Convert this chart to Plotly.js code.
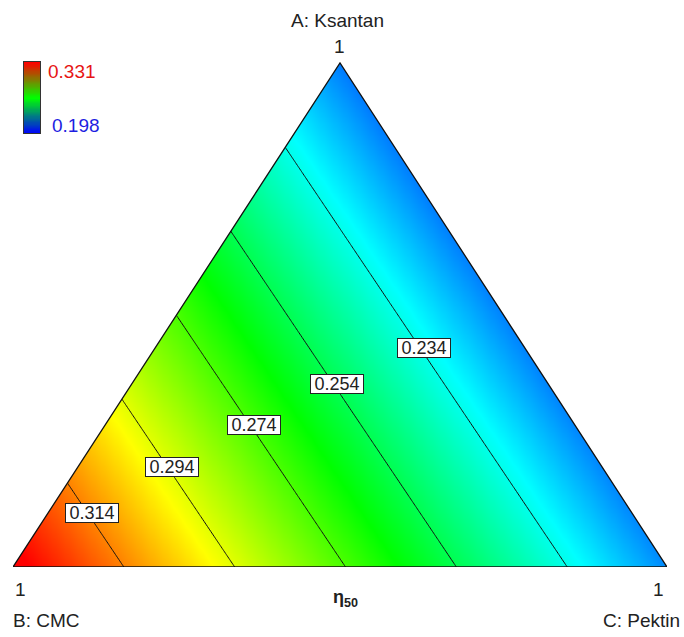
<!DOCTYPE html>
<html>
<head>
<meta charset="utf-8">
<script src="https://cdn.plot.ly/plotly-3.0.1.min.js"></script>
<style>html,body{margin:0;padding:0;background:#fff;}#chart{width:684px;height:637px;}</style>
</head>
<body>
<div id="chart"></div>
<script>
// ---- data ----
const componentNames = ['A: Ksantan', 'B: CMC', 'C: Pektin'];
const vertexLabels = ['1', '1', '1'];
const vertexResponse = [0.2139, 0.334, 0.216];   // fitted response at pure A, B, C (linear mixture model)
const contourLevels = [0.234, 0.254, 0.274, 0.294, 0.314];
const labelHeights = [0.435, 0.363, 0.282, 0.198, 0.107]; // A-fraction where each contour label sits
const colorRange = [0.198, 0.331];
const responseName = '<b>η<sub>50</sub></b>';

// ---- geometry helpers (B at origin, C at (1,0), A at (0.5,1)) ----
function response(x, y) {
  const A = y, C = x - y / 2, B = 1 - A - C;
  return vertexResponse[0] * A + vertexResponse[1] * B + vertexResponse[2] * C;
}
const step = 0.005;
const xs = [], ys = [];
for (let i = 0; i <= 200; i++) xs.push(+(i * step).toFixed(4));
for (let j = 0; j <= 208; j++) ys.push(+(j * step).toFixed(4));
const z = ys.map(y => xs.map(x => response(x, y)));

const mainScale = [[0, 'rgb(0,0,255)'], [0.25, 'rgb(0,255,255)'], [0.5, 'rgb(0,255,0)'], [0.75, 'rgb(255,255,0)'], [1, 'rgb(255,0,0)']];
const legendScale = [[0, 'rgb(0,0,255)'], [0.5, 'rgb(0,255,0)'], [1, 'rgb(255,0,0)']];

const W = 684, H = 637, ML = 13, MR = 17, MT = 50, MB = 70;
const PW = W - ML - MR, PH = H - MT - MB;   // 654 x 517
const yTop = PH / 504;
const px2x = p => (p - ML) / PW;
const py2y = p => (H - MB - p) / PH;

const traces = [];
traces.push({type: 'heatmap', x: xs, y: ys, z: z, colorscale: mainScale, zmin: colorRange[0], zmax: colorRange[1],
  zsmooth: 'best', showscale: false, hoverinfo: 'skip'});
traces.push({type: 'contour', x: xs, y: ys, z: z, showscale: false, hoverinfo: 'skip',
  contours: {coloring: 'none', start: contourLevels[0], end: contourLevels[contourLevels.length - 1], size: 0.02},
  line: {color: '#111', width: 1}});
// white masks outside the triangle
traces.push({type: 'scatter', mode: 'lines', x: [-0.1, 0, 0.5, 0.5, -0.1, -0.1], y: [0, 0, 1, 1.2, 1.2, 0],
  fill: 'toself', fillcolor: '#fff', line: {width: 0, color: '#fff'}, hoverinfo: 'skip', showlegend: false});
traces.push({type: 'scatter', mode: 'lines', x: [1.1, 1, 0.5, 0.5, 1.1, 1.1], y: [0, 0, 1, 1.2, 1.2, 0],
  fill: 'toself', fillcolor: '#fff', line: {width: 0, color: '#fff'}, hoverinfo: 'skip', showlegend: false});
// triangle outline
traces.push({type: 'scatter', mode: 'lines', x: [0, 0.5, 1, 0], y: [0, 1, 0, 0],
  line: {color: '#111', width: 1.3}, hoverinfo: 'skip', showlegend: false});
// legend colour bar
const legVals = [];
for (let k = 0; k <= 60; k++) legVals.push(colorRange[0] + (colorRange[1] - colorRange[0]) * k / 60);
traces.push({type: 'heatmap', xaxis: 'x2', yaxis: 'y2', x: [0], y: legVals, z: legVals.map(v => [v]),
  colorscale: legendScale, zmin: colorRange[0], zmax: colorRange[1], zsmooth: 'best', showscale: false, hoverinfo: 'skip'});

// contour label positions: solve along each label height
function solveX(level, y) {
  let lo = 0, hi = 1;
  for (let it = 0; it < 50; it++) {
    const mid = (lo + hi) / 2;
    if (response(mid, y) > level) lo = mid; else hi = mid;
  }
  return (lo + hi) / 2;
}
const font = 'Liberation Sans, Arial, sans-serif';
const annotations = [];
contourLevels.forEach((lv, i) => {
  const y = labelHeights[i];
  annotations.push({x: solveX(lv, y), y: y, xref: 'x', yref: 'y', xshift: 4, text: lv.toFixed(3), showarrow: false,
    font: {family: font, size: 18, color: '#222'}, bgcolor: '#fff', bordercolor: '#222', borderwidth: 1,
    borderpad: 0, width: 52, height: 18});
});
const txt = (text, x, y, xa, size, color, ya) => ({text, x, y, xref: 'paper', yref: 'paper', xanchor: xa,
  yanchor: ya || 'middle', showarrow: false, font: {family: font, size, color}});
annotations.push(txt(componentNames[0], px2x(337), py2y(21), 'center', 19, '#222'));
annotations.push(txt(vertexLabels[0], px2x(339), py2y(46), 'center', 19, '#222'));
annotations.push(txt(vertexLabels[1], px2x(13), py2y(589), 'left', 19, '#222'));
annotations.push(txt(componentNames[1], px2x(11), py2y(620), 'left', 19, '#222'));
annotations.push(txt(vertexLabels[2], px2x(666), py2y(589), 'right', 19, '#222'));
annotations.push(txt(componentNames[2], px2x(682), py2y(621), 'right', 19, '#222'));
annotations.push(txt(responseName, px2x(345), py2y(598), 'center', 18, '#222'));
annotations.push(txt(colorRange[1].toFixed(3), px2x(46), py2y(72), 'left', 19, 'rgb(230,20,20)'));
annotations.push(txt(colorRange[0].toFixed(3), px2x(50), py2y(125), 'left', 19, 'rgb(30,30,225)'));

const hidden = {showgrid: false, zeroline: false, showticklabels: false, ticks: '', showline: false, fixedrange: true};
const layout = {
  width: W, height: H, margin: {l: ML, r: MR, t: MT, b: MB, pad: 0},
  paper_bgcolor: '#fff', plot_bgcolor: '#fff', showlegend: false,
  xaxis: Object.assign({range: [0, 1], domain: [0, 1]}, hidden),
  yaxis: Object.assign({range: [0, yTop], domain: [0, 1]}, hidden),
  xaxis2: Object.assign({}, hidden, {domain: [px2x(24), px2x(40)], anchor: 'y2', range: [-0.5, 0.5],
    showline: true, mirror: true, linecolor: '#333', linewidth: 1}),
  yaxis2: Object.assign({}, hidden, {domain: [py2y(133), py2y(62)], anchor: 'x2',
    range: [colorRange[0], colorRange[1]], showline: true, mirror: true, linecolor: '#333', linewidth: 1}),
  annotations: annotations
};
Plotly.newPlot('chart', traces, layout, {displayModeBar: false, staticPlot: true});
</script>
</body>
</html>
